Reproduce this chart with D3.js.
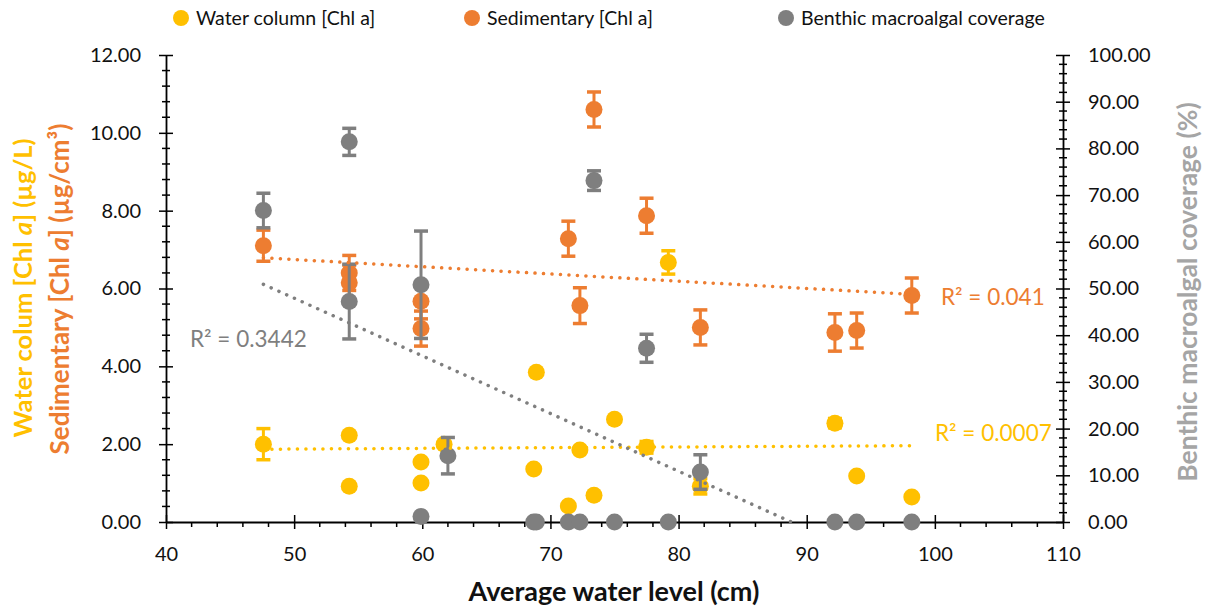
<!DOCTYPE html>
<html>
<head>
<meta charset="utf-8">
<script src="https://cdn.jsdelivr.net/npm/d3@7"></script>
<style>
  body { margin: 0; background: #fff; }
  svg text { font-family: Lato, "Open Sans", sans-serif; }
</style>
</head>
<body>
<svg width="1205" height="609"></svg>
<script>
// water level (cm) for each series
const waterX = [47.6, 54.3, 54.3, 59.9, 59.9, 61.7, 68.9, 68.7, 71.4, 72.3, 73.4, 75.0, 77.5, 79.2, 81.7, 92.2, 93.9, 98.2];
const waterY = [2.0, 2.23, 0.92, 1.54, 1.0, 2.0, 3.85, 1.36, 0.41, 1.85, 0.69, 2.64, 1.92, 6.67, 0.92, 2.54, 1.18, 0.64];
const waterErr = [0.4, 0, 0, 0, 0, 0, 0, 0, 0, 0, 0, 0, 0.15, 0.3, 0.2, 0.12, 0, 0];

const sedX = [47.6, 54.3, 54.3, 59.9, 59.9, 71.4, 72.3, 73.4, 77.5, 81.7, 92.2, 93.9, 98.2];
const sedY = [7.1, 6.4, 6.15, 5.67, 4.97, 7.28, 5.56, 10.6, 7.87, 5.0, 4.87, 4.92, 5.82];
const sedErr = [0.4, 0.45, 0.45, 0.45, 0.45, 0.45, 0.46, 0.45, 0.45, 0.45, 0.48, 0.45, 0.45];

const benthX = [47.6, 54.3, 54.3, 59.9, 59.9, 62.0, 68.7, 68.9, 71.4, 72.3, 73.4, 75.0, 77.5, 79.2, 81.7, 92.2, 93.9, 98.2];
const benthY = [66.7, 81.4, 47.2, 50.8, 1.2, 14.2, 0, 0, 0, 0, 73.1, 0, 37.2, 0, 10.7, 0, 0, 0];
const benthErr = [3.7, 2.9, 8, 11.5, 0, 3.9, 0, 0, 0, 0, 2.1, 0, 3, 0, 3.7, 0, 0, 0];

// trendline end points
const waterTrendX = [47.6, 98.2], waterTrendY = [1.87, 1.96];
const sedTrendX = [47.6, 98.2], sedTrendY = [6.79, 5.85];
const benthTrendX = [47.6, 88.8], benthTrendY = [50.9, 0];

const xTicks = [40, 50, 60, 70, 80, 90, 100, 110];
const leftTicks = [0, 2, 4, 6, 8, 10, 12];
const rightTicks = [0, 10, 20, 30, 40, 50, 60, 70, 80, 90, 100];

const YELLOW = "#FFC000", ORANGE = "#ED7D31", GREY = "#7F7F7F";

const svg = d3.select("svg");

const x = d3.scaleLinear().domain([40, 110]).range([166, 1063]);
const yL = d3.scaleLinear().domain([0, 12]).range([522, 55]);
const yR = d3.scaleLinear().domain([0, 100]).range([522, 55]);

// x axis
const gx = svg.append("g")
    .attr("transform", "translate(0,522)")
    .call(d3.axisBottom(x).tickValues(xTicks).tickSize(7).tickPadding(18).tickSizeOuter(0));
gx.selectAll(".tick line").attr("y1", -7);
gx.selectAll(".minor").data(d3.range(42, 110, 2).filter(d => d % 10 !== 0))
    .enter().append("line")
    .attr("x1", d => x(d)).attr("x2", d => x(d))
    .attr("y1", 0).attr("y2", 5)
    .attr("stroke", "#000").attr("stroke-width", 1.5);

// left axis
const gl = svg.append("g")
    .attr("transform", "translate(166,0)")
    .call(d3.axisLeft(yL).tickValues(leftTicks).tickFormat(d3.format(".2f")).tickSize(7).tickPadding(18).tickSizeOuter(0));
gl.selectAll(".tick line").attr("x1", 7);
gl.selectAll(".minor").data(d3.range(0, 12.01, 0.4).filter(d => Math.abs(d / 2 - Math.round(d / 2)) > 0.01))
    .enter().append("line")
    .attr("x1", -4).attr("x2", 4)
    .attr("y1", d => yL(d)).attr("y2", d => yL(d))
    .attr("stroke", "#000").attr("stroke-width", 1.5);

// right axis
const gr = svg.append("g")
    .attr("transform", "translate(1063,0)")
    .call(d3.axisRight(yR).tickValues(rightTicks).tickFormat(d3.format(".2f")).tickSize(7).tickPadding(18).tickSizeOuter(0));
gr.selectAll(".tick line").attr("x1", -7);
gr.selectAll(".minor").data(d3.range(2, 100, 2).filter(d => d % 10 !== 0))
    .enter().append("line")
    .attr("x1", -4).attr("x2", 4)
    .attr("y1", d => yR(d)).attr("y2", d => yR(d))
    .attr("stroke", "#000").attr("stroke-width", 1.5);

[gx, gl, gr].forEach(g => {
    g.selectAll(".domain").attr("stroke", "#000").attr("stroke-width", 1.8);
    g.selectAll(".tick line").attr("stroke", "#000").attr("stroke-width", 1.5);
    g.selectAll("text").style("font-size", "20px").attr("fill", "#111");
});

// error bars + points
function series(xs, ys, errs, yScale, color) {
    const g = svg.append("g");
    const pts = xs.map((d, i) => ({ x: d, y: ys[i], e: errs[i] }));
    const eb = pts.filter(d => d.e > 0);
    g.selectAll(".eb").data(eb).enter().append("line")
        .attr("x1", d => x(d.x)).attr("x2", d => x(d.x))
        .attr("y1", d => yScale(d.y - d.e)).attr("y2", d => yScale(d.y + d.e))
        .attr("stroke", color).attr("stroke-width", 3);
    g.selectAll(".capT").data(eb).enter().append("line")
        .attr("x1", d => x(d.x) - 7).attr("x2", d => x(d.x) + 7)
        .attr("y1", d => yScale(d.y + d.e)).attr("y2", d => yScale(d.y + d.e))
        .attr("stroke", color).attr("stroke-width", 3.5);
    g.selectAll(".capB").data(eb).enter().append("line")
        .attr("x1", d => x(d.x) - 7).attr("x2", d => x(d.x) + 7)
        .attr("y1", d => yScale(d.y - d.e)).attr("y2", d => yScale(d.y - d.e))
        .attr("stroke", color).attr("stroke-width", 3.5);
    g.selectAll("circle").data(pts).enter().append("circle")
        .attr("cx", d => x(d.x)).attr("cy", d => yScale(d.y))
        .attr("r", 8.5).attr("fill", color);
}
series(waterX, waterY, waterErr, yL, YELLOW);
series(sedX, sedY, sedErr, yL, ORANGE);
series(benthX, benthY, benthErr, yR, GREY);

// trendlines (dotted)
function trend(xs, ys, yScale, color) {
    svg.append("line")
        .attr("x1", x(xs[0])).attr("y1", yScale(ys[0]))
        .attr("x2", x(xs[1])).attr("y2", yScale(ys[1]))
        .attr("stroke", color).attr("stroke-width", 3.5)
        .attr("stroke-linecap", "round")
        .attr("stroke-dasharray", "0.1 8.4");
}
trend(waterTrendX, waterTrendY, yL, YELLOW);
trend(sedTrendX, sedTrendY, yL, ORANGE);
trend(benthTrendX, benthTrendY, yR, GREY);

// R² labels
svg.append("text").attr("x", 190).attr("y", 347).attr("fill", GREY)
    .style("font-size", "22.5px").text("R² = 0.3442");
svg.append("text").attr("x", 941).attr("y", 305).attr("fill", ORANGE)
    .style("font-size", "22.5px").text("R² = 0.041");
svg.append("text").attr("x", 935).attr("y", 441).attr("fill", YELLOW)
    .style("font-size", "22.5px").text("R² = 0.0007");

// legend
const legend = [
    { name: "Water column [Chl a]", color: YELLOW, x: 181 },
    { name: "Sedimentary [Chl a]", color: ORANGE, x: 472 },
    { name: "Benthic macroalgal coverage", color: GREY, x: 786 }
];
const lg = svg.append("g").selectAll("g").data(legend).enter().append("g");
lg.append("circle").attr("cx", d => d.x).attr("cy", 18).attr("r", 8).attr("fill", d => d.color);
lg.append("text").attr("x", d => d.x + 15).attr("y", 25)
    .style("font-size", "19.5px").attr("fill", "#111").text(d => d.name);

// axis titles
svg.append("text").attr("x", 614).attr("y", 601).attr("text-anchor", "middle")
    .style("font-size", "27px").style("font-weight", "bold").attr("fill", "#111")
    .text("Average water level (cm)");

const t1 = svg.append("text").attr("transform", "translate(32,288) rotate(-90)")
    .attr("text-anchor", "middle").style("font-size", "25.5px").style("font-weight", "bold")
    .attr("fill", YELLOW);
t1.append("tspan").text("Water colum [Chl ");
t1.append("tspan").style("font-style", "italic").text("a");
t1.append("tspan").text("] (µg/L)");

const t2 = svg.append("text").attr("transform", "translate(69,289) rotate(-90)")
    .attr("text-anchor", "middle").style("font-size", "26px").style("font-weight", "bold")
    .attr("fill", ORANGE);
t2.append("tspan").text("Sedimentary [Chl ");
t2.append("tspan").style("font-style", "italic").text("a");
t2.append("tspan").text("] (µg/cm³)");

svg.append("text").attr("transform", "translate(1197,292) rotate(-90)")
    .attr("text-anchor", "middle").style("font-size", "26.5px").style("font-weight", "bold")
    .attr("fill", "#A5A5A5").text("Benthic macroalgal coverage (%)");
</script>
</body>
</html>
